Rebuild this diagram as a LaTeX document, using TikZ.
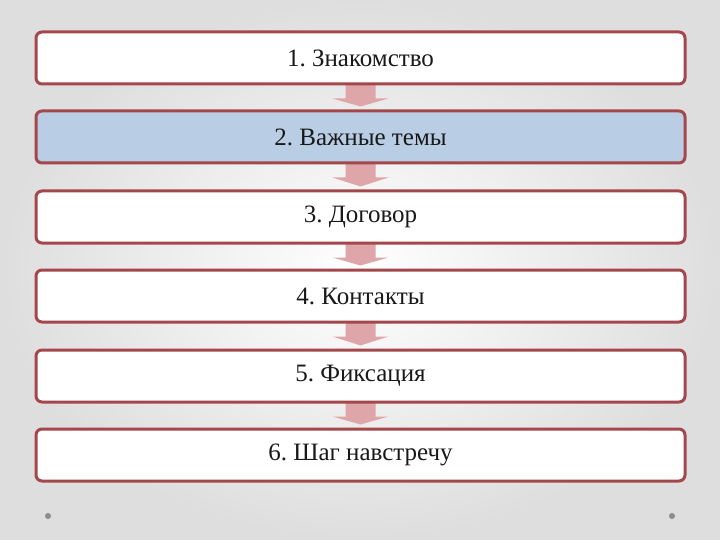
\documentclass[tikz,border=0pt]{standalone}
\usepackage{fontspec}
\setmainfont{Liberation Serif}
\usetikzlibrary{calc,backgrounds}
\definecolor{boxred}{HTML}{A4474B}
\definecolor{boxblue}{HTML}{B9CDE5}
\definecolor{arrowpink}{HTML}{DFA6AA}
\definecolor{dotgray}{HTML}{8C8C8C}
\tikzset{
  stepbox/.style={draw=boxred, line width=3pt, rounded corners=6pt, fill=white,
    minimum width=649pt, minimum height=52pt, inner sep=0pt,
    font=\fontsize{25}{28}\selectfont\frenchspacing, text=black!90},
  blockarrow/.style={fill=arrowpink, draw=none},
}
\begin{document}
\begin{tikzpicture}[x=1pt,y=-1pt]
\useasboundingbox (0,0) rectangle (720,540);
\node[stepbox] (b1) at (360.5,58) {1. Знакомство};
\node[stepbox, fill=boxblue] (b2) at (360.5,137) {2. Важные темы};
\node[stepbox] (b3) at (360.5,217) {3. Договор};
\node[stepbox] (b4) at (360.5,296) {4. Контакты};
\node[stepbox] (b5) at (360.5,376) {5. Фиксация};
\node[stepbox] (b6) at (360.5,455) {6. Шаг навстречу};
\begin{scope}[on background layer]
\shade[inner color=white, outer color=black!13] (0,0) rectangle (720,540);
\foreach \a/\b in {b1/b2,b2/b3,b3/b4,b4/b5,b5/b6}{
  \fill[blockarrow]
    ($(\a.south)+(-15,-4)$) -- ($(\a.south)+(15,-4)$) --
    ($(\a.south)+(15,13)$) -- ($(\a.south)+(28,13)$) --
    ($(\b.north)+(0,-3)$) --
    ($(\a.south)+(-28,13)$) -- ($(\a.south)+(-15,13)$) -- cycle;
}
\end{scope}
\fill[dotgray] (48,516) circle (3);
\fill[dotgray] (672,516) circle (3);
\end{tikzpicture}
\end{document}
